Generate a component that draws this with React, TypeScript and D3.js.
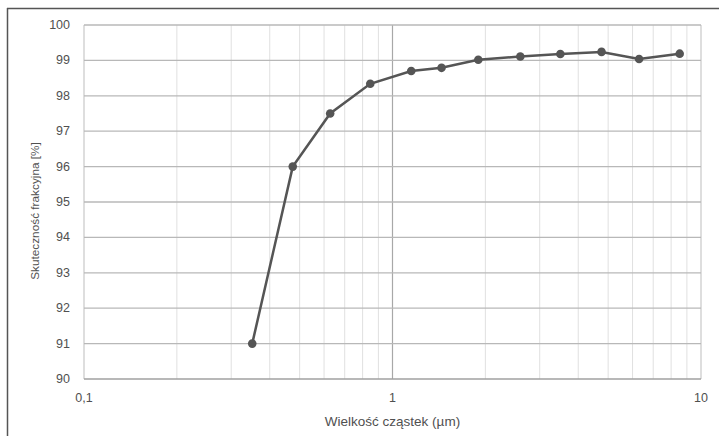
import * as d3 from "d3";

// particle size (µm) and fractional efficiency (%)
const sizes = [0.351, 0.475, 0.628, 0.847, 1.15, 1.442, 1.897, 2.596, 3.5, 4.76, 6.3, 8.53];
const efficiency = [91.0, 96.0, 97.5, 98.34, 98.7, 98.79, 99.02, 99.11, 99.18, 99.24, 99.04, 99.19];
const yTicks = [90, 91, 92, 93, 94, 95, 96, 97, 98, 99, 100];
const xTicks = [0.1, 1, 10];
const xTickLabels = ["0,1", "1", "10"];

export default function App() {
  const width = 719;
  const height = 436;
  const left = 84;
  const right = 701;
  const top = 25;
  const bottom = 379;
  const font = "'Liberation Sans', Arial, sans-serif";
  const textColor = "#505050";

  const xScale = d3.scaleLog().domain([0.1, 10]).range([left, right]);
  const yScale = d3.scaleLinear().domain([90, 100]).range([bottom, top]);

  const minor: number[] = [];
  [0.1, 1].forEach((d) => {
    for (let k = 2; k <= 9; k++) minor.push(d * k);
  });

  const points = sizes.map((s, i) => [s, efficiency[i]] as [number, number]);
  const line = d3
    .line<[number, number]>()
    .x((d) => xScale(d[0]))
    .y((d) => yScale(d[1]));

  return (
    <svg
      width={width}
      height={height}
      style={{ position: "absolute", left: 0, top: 0, background: "#fff" }}
    >
      {/* outer frame, cut by the picture edge */}
      <line x1={7} x2={width} y1={8.5} y2={8.5} stroke="#555" strokeWidth={1.5} />
      <line x1={7.5} x2={7.5} y1={8} y2={height} stroke="#555" strokeWidth={1.5} />

      {/* minor vertical grid */}
      {minor.map((m) => (
        <line
          key={m}
          x1={xScale(m)}
          x2={xScale(m)}
          y1={top}
          y2={bottom}
          stroke="#e0e0e0"
          strokeWidth={1}
        />
      ))}
      {/* major vertical grid */}
      {xTicks.map((t) => (
        <line
          key={t}
          x1={xScale(t)}
          x2={xScale(t)}
          y1={top}
          y2={bottom}
          stroke={t === 1 ? "#a8a8a8" : "#c8c8c8"}
          strokeWidth={1.2}
        />
      ))}
      {/* horizontal grid */}
      {yTicks.map((t) => (
        <line
          key={t}
          x1={left}
          x2={right}
          y1={yScale(t)}
          y2={yScale(t)}
          stroke={t === 90 ? "#a0a0a0" : "#b8b8b8"}
          strokeWidth={t === 90 ? 1.6 : 1.3}
        />
      ))}

      {/* y tick labels */}
      {yTicks.map((t) => (
        <text
          key={t}
          x={70}
          y={yScale(t)}
          textAnchor="end"
          dominantBaseline="central"
          fontFamily={font}
          fontSize={12.5}
          fill={textColor}
        >
          {t}
        </text>
      ))}
      {/* x tick labels */}
      {xTicks.map((t, i) => (
        <text
          key={t}
          x={xScale(t)}
          y={398}
          textAnchor="middle"
          dominantBaseline="central"
          fontFamily={font}
          fontSize={12.5}
          fill={textColor}
        >
          {xTickLabels[i]}
        </text>
      ))}

      {/* axis titles */}
      <text
        x={(left + right) / 2}
        y={421}
        textAnchor="middle"
        dominantBaseline="central"
        fontFamily={font}
        fontSize={13.5}
        fill={textColor}
      >
        Wielkość cząstek (µm)
      </text>
      <text
        transform={`translate(35, ${(top + bottom) / 2 + 9}) rotate(-90)`}
        textAnchor="middle"
        dominantBaseline="central"
        fontFamily={font}
        fontSize={11.8}
        fill={textColor}
      >
        Skuteczność frakcyjna [%]
      </text>

      {/* data */}
      <path d={line(points) ?? ""} fill="none" stroke="#555" strokeWidth={2.5} />
      {points.map((p, i) => (
        <circle key={i} cx={xScale(p[0])} cy={yScale(p[1])} r={4.3} fill="#555" />
      ))}
    </svg>
  );
}
